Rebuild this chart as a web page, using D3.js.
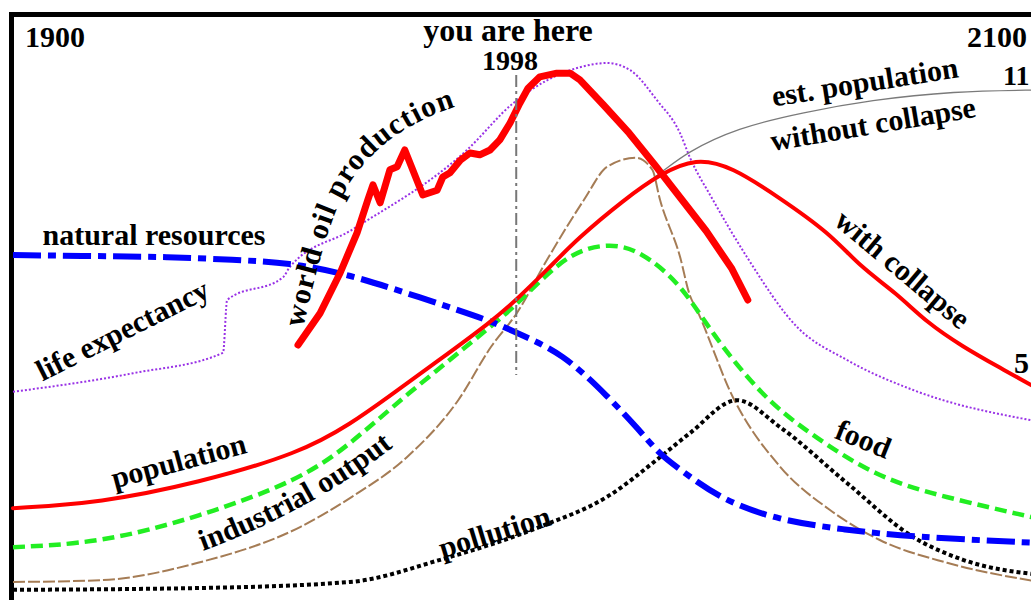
<!DOCTYPE html>
<html>
<head>
<meta charset="utf-8">
<script src="https://cdn.jsdelivr.net/npm/d3@7"></script>
<style>
  body { margin: 0; background: #fff; }
  svg { display: block; }
  text { font-family: "Liberation Serif", "Times New Roman", serif; font-weight: bold; fill: #000; }
</style>
</head>
<body>
<svg width="1031" height="600"></svg>
<script>
// values are on a relative 0-100 scale
const natResYears  = [1900, 1917, 1930, 1943, 1954, 1964, 1973, 1985, 1994, 1998, 2007, 2016, 2022, 2026, 2030, 2038, 2049, 2062, 2075, 2100];
const natResValues = [57.5, 57.3, 57.2, 56.7, 56.2, 54.5, 52.2, 48.8, 46.2, 44.5, 41.2, 33.8, 28.3, 24.2, 21.7, 16.7, 13.3, 11.7, 10.5, 9.5];

const popYears  = [1900, 1917, 1936, 1956, 1966, 1973, 1983, 1993, 1998, 2004, 2010, 2019, 2026, 2033, 2040, 2049, 2059, 2065, 2072, 2078, 2085, 2092, 2100];
const popValues = [15.3, 16.2, 19.5, 24.5, 29.5, 33.8, 40, 46.3, 50, 55, 60.3, 66.7, 71, 73.7, 72.2, 67.2, 61.2, 55.5, 51.2, 46.2, 42.2, 38.8, 35];

const estYears  = [2010, 2019, 2027, 2031, 2041, 2054, 2067, 2083, 2100];
const estValues = [60.3, 66.7, 71.7, 74.5, 78.7, 81.3, 83.3, 84.8, 85];

const foodYears  = [1900, 1917, 1936, 1956, 1966, 1976, 1993, 1998, 2003, 2009, 2016, 2022, 2030, 2036, 2046, 2055, 2068, 2081, 2100];
const foodValues = [8.8, 9.5, 13.8, 20, 26.2, 33.8, 45.5, 49.2, 53.5, 58, 59.5, 58.3, 52.8, 44.5, 33.8, 27.8, 20.5, 17.2, 13.5];

const indYears  = [1900, 1917, 1936, 1956, 1966, 1976.7, 1986.7, 1993.1, 1998.1, 2004, 2011.2, 2015.7, 2021.3, 2024.5, 2026, 2029.9, 2031.8, 2033.2, 2040.2, 2049.4, 2059.1, 2068.8, 2081.9, 2100];
const indValues = [3, 3.3, 6.2, 12.2, 17.2, 23.8, 33.3, 42.2, 47.8, 56.7, 66.7, 72.2, 73.7, 71.7, 66.7, 57.2, 50.8, 48.3, 33.8, 22.2, 15, 10, 6.2, 3];

const pollYears  = [1900, 1936.4, 1965.6, 1983.2, 2002.6, 2015.7, 2026, 2031.8, 2041, 2049.4, 2062.4, 2075.3, 2085, 2100];
const pollValues = [1.7, 2, 3, 6.7, 12.2, 17.2, 23.8, 27.8, 33.3, 28.8, 19.5, 10.5, 6.7, 4.2];

const lifeYears  = [1900, 1923.4, 1940.9, 1941.7, 1952.6, 1953.9, 1966, 1988.4, 1997.4, 2010.4, 2015.7, 2020.2, 2025.4, 2029.9, 2031.8, 2036.3, 2042.9, 2052.7, 2062.4, 2075.3, 2100];
const lifeValues = [34.7, 37.8, 41.2, 50, 53.8, 55.5, 61.7, 75, 82.8, 88.8, 89.5, 88.3, 83.3, 77.8, 73.8, 66.7, 57.2, 45.5, 40, 35, 29.7];

const oilYears  = [1955.5, 1959.8, 1963.7, 1967, 1969.1, 1970.1, 1971.5, 1973.4, 1974.8, 1976.3, 1979.8, 1982.6, 1983.7, 1985.1, 1987.1, 1989, 1990.9, 1992.9, 1994.8, 1996.8, 1998.7, 2000.3, 2002.6, 2005.9, 2008.5, 2010.4, 2015, 2020, 2025, 2030, 2035, 2040, 2043.1];
const oilValues = [42.5, 47.8, 54.5, 61.2, 66.7, 69.2, 66.2, 71.7, 72.2, 75, 67.5, 68.3, 70.5, 71.2, 73.3, 74.5, 74.2, 75, 76.7, 79.5, 82.8, 85.3, 87.2, 87.8, 87.8, 86.7, 82.5, 77.8, 72.5, 67, 61.5, 55.2, 50];

const nowYear = 1998;
const nowRange = [87.5, 37.5];

const svg = d3.select('svg');
const width = +svg.attr('width');
const height = +svg.attr('height');

const x = d3.scaleLinear().domain([1900, 2100]).range([13, 1040]);
const y = d3.scaleLinear().domain([0, 100]).range([600, 0]);

//frame (only top and left edges are in view)
svg.append('line').attr('x1', 10).attr('x2', width).attr('y1', 14.5).attr('y2', 14.5)
  .attr('stroke', '#000').attr('stroke-width', 5);
svg.append('line').attr('x1', 11.5).attr('x2', 11.5).attr('y1', 12).attr('y2', height)
  .attr('stroke', '#000').attr('stroke-width', 5);

const series = [
  { years: lifeYears,   values: lifeValues,   color: '#9932e6', width: 2,   dash: '2,2',  curve: d3.curveMonotoneX },
  { years: estYears,    values: estValues,    color: '#7a7a7a', width: 1.3, dash: null,   curve: d3.curveBasis },
  { years: indYears,    values: indValues,    color: '#a57c55', width: 2,   dash: '12,3', curve: d3.curveMonotoneX },
  { years: foodYears,   values: foodValues,   color: '#22ee22', width: 4.5, dash: '12,6', curve: d3.curveBasis },
  { years: pollYears,   values: pollValues,   color: '#000000', width: 4,   dash: '4,3',  curve: d3.curveMonotoneX },
  { years: natResYears, values: natResValues, color: '#0000ff', width: 6,   dash: '28,7,8,7', curve: d3.curveBasis },
  { years: popYears,    values: popValues,    color: '#ff0000', width: 4,   dash: null,   curve: d3.curveBasis },
  { years: oilYears,    values: oilValues,    color: '#ff0000', width: 7,   dash: null,   curve: d3.curveLinear }
];

//draw the curves
series.forEach(s => {
  const line = d3.line()
    .x(d => x(d[0]))
    .y(d => y(d[1]))
    .curve(s.curve);
  svg.append('path')
    .attr('d', line(d3.zip(s.years, s.values)))
    .attr('fill', 'none')
    .attr('stroke', s.color)
    .attr('stroke-width', s.width)
    .attr('stroke-dasharray', s.dash)
    .attr('stroke-linejoin', 'round')
    .attr('stroke-linecap', s.dash ? 'butt' : 'round');
});

//you are here marker
svg.append('line')
  .attr('x1', x(nowYear)).attr('x2', x(nowYear))
  .attr('y1', y(nowRange[0])).attr('y2', y(nowRange[1]))
  .attr('stroke', '#777').attr('stroke-width', 2)
  .attr('stroke-dasharray', '12,4,3,4');

//straight labels
const labels = [
  { text: 'natural resources',    x: 154, y: 236, angle: 0 },
  { text: 'life expectancy',      x: 123, y: 331, angle: -26.7 },
  { text: 'population',           x: 179, y: 462, angle: -15 },
  { text: 'pollution',            x: 495, y: 533, angle: -17 },
  { text: 'food',                 x: 863, y: 440, angle: 22 },
  { text: 'with collapse',        x: 902, y: 270, angle: 40 },
  { text: 'est. population',      x: 865, y: 83,  angle: -9 },
  { text: 'without collapse',     x: 873, y: 125, angle: -9.5 }
];

svg.selectAll('text.lbl')
  .data(labels).enter()
  .append('text')
    .attr('class', 'lbl')
    .attr('transform', d => `translate(${d.x},${d.y}) rotate(${d.angle})`)
    .attr('dy', '0.3em')
    .attr('text-anchor', 'middle')
    .style('font-size', '30px')
    .text(d => d.text);

//curved labels follow their line
const curvedLabels = [
  { id: 'oilLabel', text: 'world oil production', d: 'M303,328 C318,262 333,205 355,175 S412,120 458,106', spacing: 1.2 },
  { id: 'indLabel', text: 'industrial output',    d: 'M203,551 Q318,508 402,440', spacing: 0 }
];

const defs = svg.append('defs');
curvedLabels.forEach(c => {
  defs.append('path').attr('id', c.id).attr('d', c.d);
  svg.append('text')
    .style('font-size', '30px')
    .style('letter-spacing', c.spacing + 'px')
    .append('textPath')
      .attr('href', '#' + c.id)
      .text(c.text);
});

//year and value notes
svg.append('text').attr('x', 25).attr('y', 47).style('font-size', '30px').text('1900');
svg.append('text').attr('x', 967).attr('y', 47).style('font-size', '30px').text('2100');
svg.append('text').attr('x', 508).attr('y', 41).attr('text-anchor', 'middle').style('font-size', '32px').text('you are here');
svg.append('text').attr('x', 510).attr('y', 70).attr('text-anchor', 'middle').style('font-size', '28px').text('1998');
svg.append('text').attr('x', 1003).attr('y', 85).style('font-size', '28px').text('11');
svg.append('text').attr('x', 1014).attr('y', 373).style('font-size', '30px').text('5');
</script>
</body>
</html>
